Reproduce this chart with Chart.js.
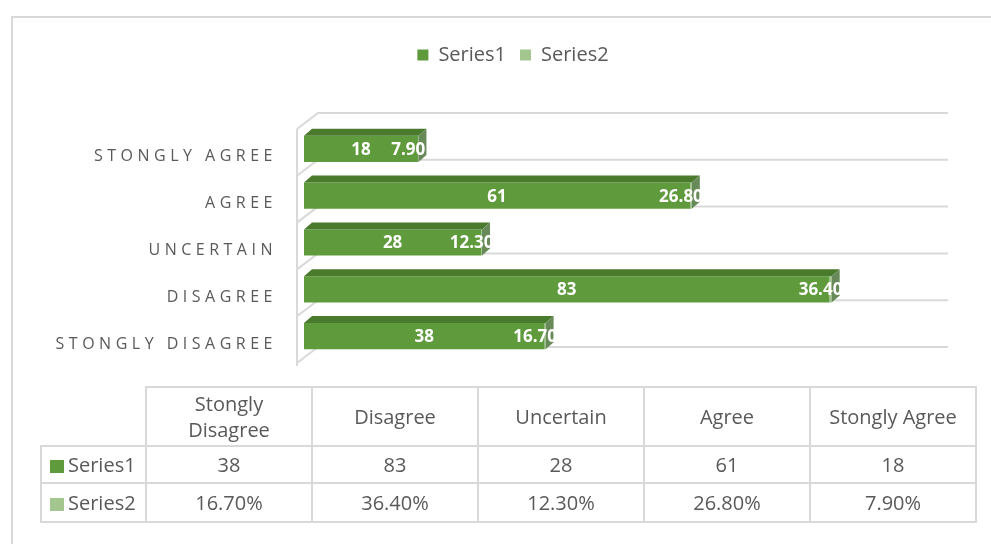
<!DOCTYPE html>
<html>
<head>
<meta charset="utf-8">
<script src="https://cdn.jsdelivr.net/npm/chart.js@4.4.0/dist/chart.umd.min.js"></script>
<style>
  body { margin: 0; background: #fff; font-family: "Open Sans", "Noto Sans", sans-serif; }
  #frame { position: absolute; left: 11px; top: 16px; width: 1000px; height: 600px;
           border-left: 2px solid #d9d9d9; border-top: 2px solid #d9d9d9; }
  #wrap { position: absolute; left: 0; top: 0; width: 991px; height: 544px; }
  #tbl { position: absolute; left: 40px; top: 386px; border-collapse: collapse;
         color: #595959; font-size: 20px; }
  #tbl td, #tbl th { border: 2px solid #d9d9d9; text-align: center; font-weight: normal; padding: 0; }
  #tbl th.blank { border: none; }
  #tbl td.name { text-align: left; padding-left: 8px; }
  .sw { display: inline-block; width: 14px; height: 13px; margin-right: 4px; vertical-align: -1px; }
</style>
</head>
<body>
<div id="frame"></div>
<div id="wrap"><canvas id="dvCanvas" width="991" height="544"></canvas></div>
<table id="tbl"></table>
<script>
var categories = ['Stongly Disagree', 'Disagree', 'Uncertain', 'Agree', 'Stongly Agree'];
var series1 = [38, 83, 28, 61, 18];
var series2 = [16.7, 36.4, 12.3, 26.8, 7.9];   // percentages
var seriesNames = ['Series1', 'Series2'];
var colors = ['#5f9b3d', '#a3c68f'];
var FONT = '"Open Sans", "Noto Sans", sans-serif';

// data table under the chart
var tbl = document.getElementById('tbl');
var html = '<tr style="height:59px"><th class="blank" style="width:104px"></th>';
categories.forEach(function (c) {
    var txt = c == 'Stongly Disagree' ? 'Stongly<br>Disagree' : c;
    html += '<th style="width:164px;line-height:26px">' + txt + '</th>';
});
html += '</tr>';
html += '<tr style="height:37px"><td class="name"><span class="sw" style="background:' + colors[0] + '"></span>' + seriesNames[0] + '</td>';
series1.forEach(function (v) { html += '<td>' + v + '</td>'; });
html += '</tr><tr style="height:39px"><td class="name"><span class="sw" style="background:' + colors[1] + '"></span>' + seriesNames[1] + '</td>';
series2.forEach(function (v) { html += '<td>' + v.toFixed(2) + '%</td>'; });
html += '</tr>';
tbl.innerHTML = html;

var DX = 8, DY = 7;      // bar depth
var WX = 21, WY = 16;    // wall depth

var decor = {
    id: 'decor',
    beforeInit: function (chart) {
        var fit = chart.legend.fit;
        chart.legend.fit = function () {
            fit.call(this);
            this.height = 94.5;
        };
    },
    beforeDatasetsDraw: function (chart) {
        var ctx = chart.ctx, a = chart.chartArea;
        var band = (a.bottom - a.top) / categories.length;
        ctx.save();
        ctx.strokeStyle = '#d9d9d9';
        ctx.lineWidth = 2;
        var fx = a.left - 7, bx = fx + WX;
        var lines = [];
        for (var i = 0; i <= categories.length; i++) {
            lines.push(a.top + band * i - 12.5);
        }
        ctx.beginPath();
        ctx.moveTo(fx, lines[0] + WY);
        ctx.lineTo(fx, lines[lines.length - 1] + WY + 3);
        lines.forEach(function (g) {
            ctx.moveTo(fx, g + WY);
            ctx.lineTo(bx, g);
            ctx.lineTo(a.right + 11, g);
        });
        ctx.stroke();
        ctx.restore();
    },
    afterDatasetsDraw: function (chart) {
        var ctx = chart.ctx, a = chart.chartArea;
        var m1 = chart.getDatasetMeta(0), m2 = chart.getDatasetMeta(1);
        ctx.save();
        m1.data.forEach(function (bar, i) {
            var end = m2.data[i].x;
            var x0 = bar.base, top = bar.y - bar.height / 2, bot = bar.y + bar.height / 2;
            ctx.fillStyle = '#4a7a2c';
            ctx.beginPath();
            ctx.moveTo(x0, top); ctx.lineTo(x0 + DX, top - DY);
            ctx.lineTo(end + DX, top - DY); ctx.lineTo(end, top);
            ctx.closePath(); ctx.fill();
            ctx.fillStyle = '#678a58';
            ctx.beginPath();
            ctx.moveTo(end, top); ctx.lineTo(end + DX, top - DY);
            ctx.lineTo(end + DX, bot - DY); ctx.lineTo(end, bot);
            ctx.closePath(); ctx.fill();
        });
        // value labels
        ctx.fillStyle = '#ffffff';
        ctx.font = 'bold 17px ' + FONT;
        ctx.textAlign = 'center';
        ctx.textBaseline = 'middle';
        m1.data.forEach(function (bar, i) {
            ctx.fillText(String(series1[i]), (bar.base + bar.x) / 2, bar.y + 1);
            var b2 = m2.data[i];
            ctx.fillText(series2[i].toFixed(2), (b2.base + b2.x) / 2 - 10, bar.y + 1);
        });
        // category labels
        var y = chart.scales.y;
        ctx.fillStyle = '#595959';
        ctx.font = '16px ' + FONT;
        ctx.letterSpacing = '4.5px';
        ctx.textAlign = 'right';
        categories.forEach(function (c, i) {
            ctx.fillText(c.toUpperCase(), a.left - 27, y.getPixelForValue(i) + 8);
        });
        ctx.restore();
    }
};

var ctx = document.getElementById('dvCanvas').getContext('2d');
var myChart = new Chart(ctx, {
    type: 'bar',
    data: {
        labels: categories,
        datasets: [{
            label: seriesNames[0],
            data: series1,
            backgroundColor: colors[0],
            barPercentage: 0.56,
            categoryPercentage: 1
        }, {
            label: seriesNames[1],
            data: series2.map(function (v) { return v / 100; }),
            backgroundColor: colors[1],
            barPercentage: 0.56,
            categoryPercentage: 1
        }]
    },
    options: {
        responsive: false,
        animation: false,
        indexAxis: 'y',
        layout: { padding: { left: 89, right: 54, top: 31, bottom: 184.5 } },
        scales: {
            x: { display: false, stacked: true, min: 0, max: 100 },
            y: {
                stacked: true, reverse: true,
                ticks: { display: false },
                grid: { display: false },
                border: { display: false },
                afterFit: function (s) { s.width = 215; }
            }
        },
        plugins: {
            legend: {
                position: 'top',
                labels: {
                    boxWidth: 11, boxHeight: 11, padding: 14,
                    color: '#595959',
                    font: { size: 20, family: FONT }
                }
            },
            tooltip: { enabled: false }
        }
    },
    plugins: [decor]
});
</script>
</body>
</html>
